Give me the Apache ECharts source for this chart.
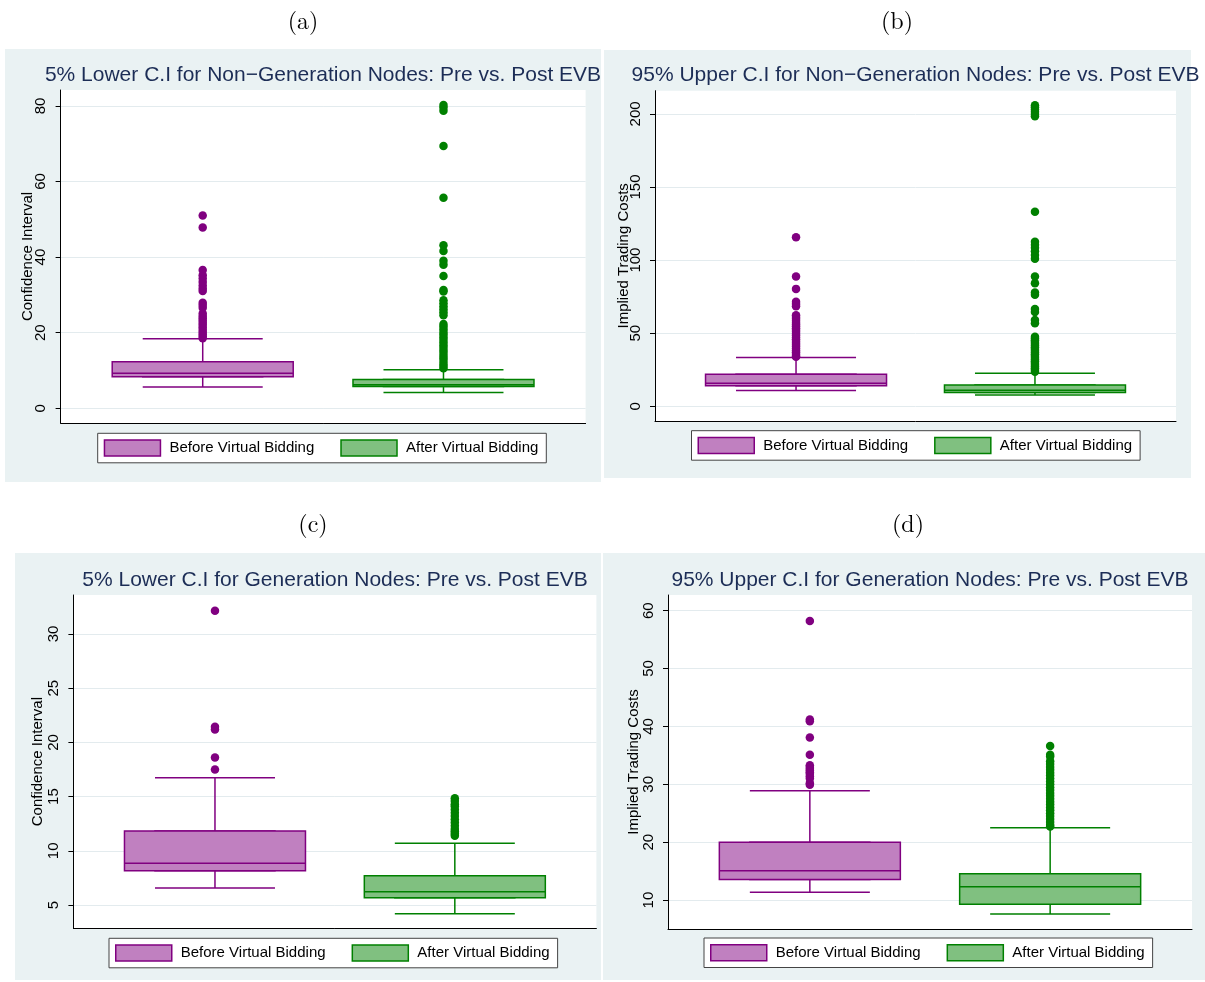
<!DOCTYPE html>
<html>
<head>
<meta charset="utf-8">
<script src="https://cdn.jsdelivr.net/npm/echarts@6/dist/echarts.min.js"></script>
<style>
  html, body { margin: 0; padding: 0; background: #ffffff; }
  #chart { width: 1205px; height: 982px; }
</style>
</head>
<body>
<div id="chart"></div>
<script>
// ---------------- DATA ----------------
const groupNames = ['Before Virtual Bidding', 'After Virtual Bidding'];
const panelLabels = ['(a)', '(b)', '(c)', '(d)'];
const panelTitles = [
  '5% Lower C.I for Non\u2212Generation Nodes: Pre vs. Post EVB',
  '95% Upper C.I for Non\u2212Generation Nodes: Pre vs. Post EVB',
  '5% Lower C.I for Generation Nodes: Pre vs. Post EVB',
  '95% Upper C.I for Generation Nodes: Pre vs. Post EVB'
];
const yAxisTitles = ['Confidence Interval', 'Implied Trading Costs', 'Confidence Interval', 'Implied Trading Costs'];

// box stats: [lower whisker, Q1, median, Q3, upper whisker]
const boxA_before = [5.6, 8.35, 9.25, 12.3, 18.4];
const boxA_after  = [4.2, 5.75, 6.2, 7.6, 10.2];
const boxB_before = [10.8, 14.0, 15.7, 21.9, 33.4];
const boxB_after  = [7.7, 9.4, 11.0, 14.6, 22.6];
const boxC_before = [6.57, 8.17, 8.85, 11.83, 16.75];
const boxC_after  = [4.2, 5.67, 6.23, 7.7, 10.7];
const boxD_before = [11.33, 13.57, 15.06, 19.97, 28.9];
const boxD_after  = [7.58, 9.26, 12.3, 14.55, 22.5];

// outliers
const outA_before = [51.0, 47.8, 36.6, 35.2, 34.3, 33.4, 32.5, 31.7, 31.0, 27.9, 27.3, 26.6, 25.1, 24.4, 23.8, 23.2, 22.6, 22.0, 21.4, 20.8, 20.2, 19.6, 19.0, 18.5];
const outA_after  = [80.2, 79.6, 78.7, 69.4, 55.7, 43.1, 41.6, 39.0, 38.0, 35.0, 31.3, 30.9, 28.6, 27.8, 27.0, 26.2, 25.4, 24.6, 22.3, 21.6, 20.9, 20.2, 19.5, 18.8, 18.1, 17.4, 16.7, 16.0, 15.3, 14.6, 13.9, 13.2, 12.5, 11.8, 11.2, 10.6];
const outB_before = [115.6, 88.7, 80.3, 71.5, 70.0, 68.5, 62.3, 61.0, 59.8, 58.5, 57.2, 56.0, 54.7, 53.4, 52.2, 50.9, 49.6, 48.4, 47.1, 45.8, 44.6, 43.3, 42.0, 40.8, 39.5, 38.2, 37.0, 35.7, 34.4, 33.8];
const outB_after  = [206.0, 204.5, 203.0, 201.5, 200.0, 198.5, 133.0, 112.5, 110.5, 108.5, 106.0, 103.5, 101.0, 88.7, 84.1, 77.8, 76.3, 66.5, 64.5, 59.0, 56.8, 47.6, 46.4, 45.2, 44.0, 42.8, 41.6, 40.4, 39.2, 38.0, 36.8, 35.6, 34.4, 33.2, 32.0, 30.8, 29.6, 28.4, 27.2, 26.0, 24.8, 23.6];
const outC_before = [32.15, 21.45, 21.2, 18.6, 17.5];
const outC_after  = [14.85, 14.6, 14.3, 14.1, 13.8, 13.5, 13.2, 12.9, 12.6, 12.3, 12.0, 11.8, 11.6, 11.4];
const outD_before = [58.2, 41.2, 40.9, 38.1, 35.1, 33.3, 33.0, 32.7, 32.4, 32.1, 31.8, 31.4, 31.0, 30.2, 29.9];
const outD_after  = [36.6, 35.1, 34.8, 34.0, 33.5, 33.0, 32.5, 32.0, 31.5, 31.0, 30.5, 30.0, 29.5, 29.0, 28.5, 28.0, 27.5, 27.0, 26.5, 26.0, 25.5, 25.0, 24.5, 24.0, 23.5, 23.0, 22.7];

// y-axis tick labels and ranges
const ticksA = [0, 20, 40, 60, 80];
const ticksB = [0, 50, 100, 150, 200];
const ticksC = [5, 10, 15, 20, 25, 30];
const ticksD = [10, 20, 30, 40, 50, 60];
const rangeA = [-3.9, 84.2];
const rangeB = [-10.1, 215.9];
const rangeC = [2.85, 33.6];
const rangeD = [5.0, 62.7];

// ---------------- LAYOUT / STYLE ----------------
const groupX = [0.2707, 0.7293];
const grids = [
  { left: 60.6, top: 90, width: 525, height: 333 },
  { left: 655, top: 90.7, width: 521, height: 330.3 },
  { left: 73.4, top: 595, width: 523, height: 333.3 },
  { left: 668, top: 595, width: 524, height: 334 }
];
const nameGaps = [25.5, 24, 28.5, 27];
const legendPos = [[97.7, 433.3], [691.5, 430.7], [109, 938.3], [704, 938]];
const bgRects = [[5, 49, 596, 433], [604, 50, 587, 428], [15, 553, 586, 427], [603, 553, 602, 427]];
const labelPos = [[303, 22], [897, 22], [313, 525], [908, 525]];
const titlePos = [[323, 75], [915.5, 75], [335, 580], [930, 580]];
const fills = ['#c080c0', '#80c080'];
const strokes = ['#800080', '#008000'];
const BOX_W = 181, CAP_W = 120;
const FONT = '"Liberation Sans", Arial, sans-serif';

const boxes = [[boxA_before, boxA_after], [boxB_before, boxB_after], [boxC_before, boxC_after], [boxD_before, boxD_after]];
const outs = [[outA_before, outA_after], [outB_before, outB_after], [outC_before, outC_after], [outD_before, outD_after]];
const ticks = [ticksA, ticksB, ticksC, ticksD];
const ranges = [rangeA, rangeB, rangeC, rangeD];

const option = {
  animation: false,
  backgroundColor: '#ffffff',
  grid: [], xAxis: [], yAxis: [], series: [], legend: [], graphic: []
};

for (let p = 0; p < 4; p++) {
  const g = grids[p];
  option.grid.push({ left: g.left, top: g.top, width: g.width, height: g.height,
    show: true, backgroundColor: '#ffffff', borderWidth: 0, containLabel: false });
  option.yAxis.push({
    type: 'value', gridIndex: p, min: ranges[p][0], max: ranges[p][1],
    name: yAxisTitles[p], nameLocation: 'middle', nameRotate: 90, nameGap: nameGaps[p],
    nameMoveOverlap: false,
    nameTextStyle: { fontFamily: FONT, fontSize: 15, color: '#000' },
    axisLine: { show: true, onZero: false, lineStyle: { color: '#000', width: 1 } },
    axisTick: { show: true, length: 5, customValues: ticks[p], lineStyle: { color: '#000' } },
    axisLabel: { rotate: 90, margin: 12, customValues: ticks[p], fontFamily: FONT, fontSize: 15, color: '#000' },
    splitLine: { show: true, lineStyle: { color: '#e3ebee', width: 1 } }
  });
  for (let k = 0; k < 4; k++) {
    option.xAxis.push({
      type: 'value', gridIndex: p, min: 0, max: 1, show: k === 0,
      axisLine: { show: true, onZero: false, lineStyle: { color: '#000', width: 1 } },
      axisTick: { show: false }, axisLabel: { show: false }, splitLine: { show: false }
    });
  }
  for (let gi = 0; gi < 2; gi++) {
    const b = boxes[p][gi];
    const x = groupX[gi];
    // whiskers with caps
    option.series.push({
      type: 'boxplot', name: groupNames[gi], xAxisIndex: p * 4 + gi * 2, yAxisIndex: p,
      boxWidth: [CAP_W, CAP_W],
      data: [[x, b[0], b[1], b[2], b[3], b[4]]],
      itemStyle: { color: 'rgba(0,0,0,0)', borderColor: strokes[gi], borderWidth: 1.5 },
      emphasis: { disabled: true }, z: 2
    });
    // box body with median
    option.series.push({
      type: 'boxplot', name: groupNames[gi], xAxisIndex: p * 4 + gi * 2 + 1, yAxisIndex: p,
      boxWidth: [BOX_W, BOX_W],
      data: [[x, b[1], b[1], b[2], b[3], b[3]]],
      itemStyle: { color: fills[gi], borderColor: strokes[gi], borderWidth: 1.5 },
      emphasis: { disabled: true }, z: 3
    });
    // outliers
    option.series.push({
      type: 'scatter', name: groupNames[gi], xAxisIndex: p * 4 + gi * 2, yAxisIndex: p,
      data: outs[p][gi].map(v => [x, v]),
      symbol: 'circle', symbolSize: 8.5,
      itemStyle: { color: strokes[gi], opacity: 1 },
      emphasis: { disabled: true }, z: 4
    });
  }
  option.legend.push({
    left: legendPos[p][0], top: legendPos[p][1], orient: 'horizontal',
    selectedMode: false, icon: 'rect', itemWidth: 56, itemHeight: 16, itemGap: 26,
    padding: [6, 8, 6, 6], backgroundColor: '#ffffff', borderColor: '#444', borderWidth: 1,
    textStyle: { fontFamily: FONT, fontSize: 15, color: '#000', padding: [0, 0, 0, 4] },
    data: groupNames.map((n, gi) => ({ name: n, icon: 'rect',
      itemStyle: { color: fills[gi], borderColor: strokes[gi], borderWidth: 1.5 } }))
  });
  option.graphic.push({
    type: 'rect', z: -10, silent: true,
    shape: { x: bgRects[p][0], y: bgRects[p][1], width: bgRects[p][2], height: bgRects[p][3] },
    style: { fill: '#eaf2f3' }
  });
  option.graphic.push({
    type: 'text', silent: true, x: labelPos[p][0], y: labelPos[p][1],
    style: { text: panelLabels[p], fontFamily: '"Latin Modern Roman", "Liberation Serif", "DejaVu Serif", serif',
      fontSize: 24, fill: '#000', align: 'center', verticalAlign: 'middle' }
  });
  option.graphic.push({
    type: 'text', silent: true, x: titlePos[p][0], y: titlePos[p][1],
    style: { text: panelTitles[p], fontFamily: FONT, fontSize: 21, fill: '#1c2d56',
      align: 'center', verticalAlign: 'middle' }
  });
}

const chart = echarts.init(document.getElementById('chart'), null, { renderer: 'canvas' });
chart.setOption(option);
</script>
</body>
</html>
